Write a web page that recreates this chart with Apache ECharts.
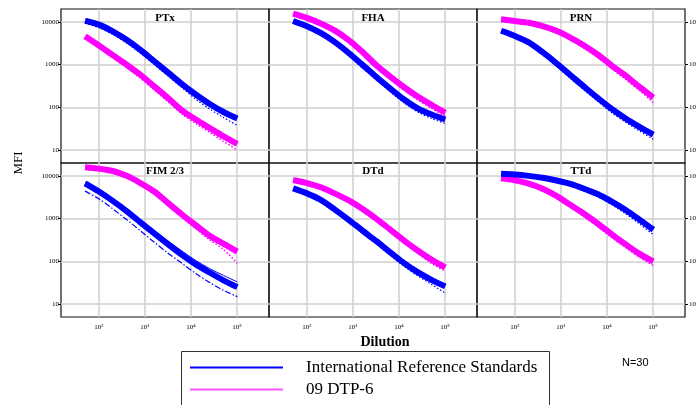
<!DOCTYPE html>
<html>
<head>
<meta charset="utf-8">
<script src="https://cdn.jsdelivr.net/npm/echarts@6/dist/echarts.min.js"></script>
<style>html,body{margin:0;padding:0;background:#fff}#c{width:696px;height:405px}</style>
</head>
<body>
<div id="c"></div>
<script>
// ---- data ----
const dilutions = [50, 100, 200, 400, 800, 1600, 3200, 6400, 12800, 25600, 51200, 102400];
const panelTitles = ['PTx', 'FHA', 'PRN', 'FIM 2/3', 'DTd', 'TTd'];
const seriesNames = ['International Reference Standards', '09 DTP-6'];
const xTickExps = [2, 3, 4, 5];
const yTickValues = [10, 100, 1000, 10000];

// International Reference Standards (dense band centre / lowest replicate)
const ptxIrs    = [10700, 8600, 6000, 3800, 2200, 1200, 650, 350, 200, 120, 78, 55];
const ptxIrsLow = [9300, 7300, 5100, 3200, 1850, 1000, 540, 290, 155, 92, 58, 38];
const fhaIrs    = [10500, 7900, 5500, 3400, 1900, 1000, 520, 280, 155, 95, 68, 52];
const fhaIrsLow = [9500, 7000, 4800, 2950, 1620, 850, 440, 235, 128, 78, 55, 42];
const prnIrs    = [6200, 4700, 3300, 1950, 1080, 570, 305, 165, 92, 55, 35, 23];
const prnIrsLow = [5600, 4200, 2900, 1700, 920, 480, 255, 137, 75, 45, 28, 18];
const fimIrs    = [6700, 4300, 2600, 1500, 820, 450, 250, 142, 85, 55, 36, 25];
const fimIrsHigh= [7200, 4700, 2900, 1700, 950, 520, 300, 175, 105, 68, 47, 33];
const fimIrsLow = [4400, 2900, 1700, 950, 520, 280, 155, 90, 52, 32, 21, 15];
const dtdIrs    = [5100, 3900, 2750, 1650, 950, 530, 300, 165, 92, 56, 37, 26];
const dtdIrsLow = [4700, 3500, 2450, 1450, 820, 455, 255, 140, 77, 46, 29, 18];
const ttdIrs    = [11200, 10800, 10000, 9000, 7800, 6500, 5000, 3700, 2500, 1600, 950, 550];
const ttdIrsLow = [10500, 10100, 9300, 8300, 7100, 5800, 4400, 3200, 2100, 1300, 750, 420];

// 09 DTP-6
const ptxDtp    = [4600, 2800, 1670, 1000, 580, 310, 165, 85, 52, 33, 21, 14];
const ptxDtpLow = [4100, 2450, 1450, 850, 480, 255, 135, 70, 42, 26, 16, 10];
const fhaDtp    = [15600, 12400, 9200, 6300, 3800, 2000, 980, 530, 300, 180, 115, 75];
const fhaDtpLow = [14000, 11000, 8200, 5500, 3300, 1750, 840, 455, 255, 150, 95, 62];
const prnDtp    = [11500, 10500, 9500, 8000, 6200, 4300, 2800, 1700, 950, 550, 300, 170];
const prnDtpLow = [10500, 9600, 8600, 7200, 5500, 3800, 2400, 1450, 800, 450, 250, 130];
const fimDtp    = [16000, 14800, 13000, 10000, 6800, 4300, 2300, 1250, 700, 400, 260, 170];
const fimDtpLow = [14500, 13500, 11800, 9200, 6200, 3800, 2000, 1050, 580, 320, 190, 90];
const dtdDtp    = [8000, 6800, 5400, 3900, 2700, 1700, 1000, 560, 310, 180, 110, 72];
const dtdDtpLow = [7400, 6200, 4900, 3500, 2400, 1500, 880, 490, 270, 155, 90, 58];
const ttdDtp    = [8800, 7900, 6600, 5000, 3400, 2100, 1300, 760, 430, 250, 150, 100];
const ttdDtpLow = [8200, 7300, 6000, 4500, 3000, 1850, 1100, 640, 360, 210, 125, 80];

const panels = [
  {irs: ptxIrs, irsLow: ptxIrsLow, dtp: ptxDtp, dtpLow: ptxDtpLow},
  {irs: fhaIrs, irsLow: fhaIrsLow, dtp: fhaDtp, dtpLow: fhaDtpLow},
  {irs: prnIrs, irsLow: prnIrsLow, dtp: prnDtp, dtpLow: prnDtpLow},
  {irs: fimIrs, irsLow: fimIrsLow, irsHigh: fimIrsHigh, dtp: fimDtp, dtpLow: fimDtpLow, dashLow: true},
  {irs: dtdIrs, irsLow: dtdIrsLow, dtp: dtdDtp, dtpLow: dtdDtpLow},
  {irs: ttdIrs, irsLow: ttdIrsLow, dtp: ttdDtp, dtpLow: ttdDtpLow}
];

// ---- chart ----
const BLUE = '#0000ff', MAG = '#ff00ff';
const SERIF = 'Liberation Serif, DejaVu Serif, serif';
const sup = {'2': '\u00b2', '3': '\u00b3', '4': '\u2074', '5': '\u2075'};
const pts = arr => dilutions.map((d, i) => [d, arr[i]]);

const colLeft = [61, 269, 477], colW = 208;
const rowTop = [9, 163], rowH = 154;

const grids = [], xAxes = [], yAxes = [], series = [], titles = [];
panels.forEach((p, i) => {
  const col = i % 3, row = Math.floor(i / 3);
  grids.push({left: colLeft[col], top: rowTop[row], width: colW, height: rowH,
    show: true, borderColor: '#111', borderWidth: 1.2, containLabel: false, outerBoundsMode: 'none'});
  xAxes.push({type: 'log', gridIndex: i, min: 15, max: 500000, logBase: 10,
    axisLine: {show: false}, axisTick: {show: false},
    axisLabel: {show: row === 1, showMinLabel: false, showMaxLabel: false, margin: 7,
      fontSize: 7, color: '#000', fontFamily: SERIF,
      formatter: v => { const e = String(Math.round(Math.log10(v))); return xTickExps.includes(+e) ? '10' + sup[e] : ''; }},
    splitLine: {show: true, showMinLine: false, showMaxLine: false, lineStyle: {color: '#cfcfcf', width: 1.5}}});
  const showY = col !== 1;
  yAxes.push({type: 'log', gridIndex: i, min: 5, max: 20000, logBase: 10,
    position: col === 2 ? 'right' : 'left',
    axisLine: {show: false},
    axisTick: {show: showY, length: 3, lineStyle: {color: '#000'}},
    axisLabel: {show: showY, showMinLabel: false, showMaxLabel: false, margin: col === 2 ? 4 : 2,
      fontSize: 7, color: '#000', fontFamily: SERIF,
      formatter: v => yTickValues.includes(Math.round(v)) ? String(Math.round(v)) : ''},
    splitLine: {show: true, showMinLine: false, showMaxLine: false, lineStyle: {color: '#cfcfcf', width: 1.5}}});
  const base = {type: 'line', xAxisIndex: i, yAxisIndex: i, symbol: 'none', smooth: 0.3, silent: true, animation: false};
  series.push(Object.assign({}, base, {name: seriesNames[1], data: pts(p.dtpLow), lineStyle: {color: MAG, width: 1.5, type: [1.5, 2]}, itemStyle: {color: MAG}}));
  series.push(Object.assign({}, base, {name: seriesNames[1], data: pts(p.dtp), lineStyle: {color: MAG, width: 6}, itemStyle: {color: MAG}}));
  series.push(Object.assign({}, base, {name: seriesNames[0], data: pts(p.irsLow), lineStyle: {color: BLUE, width: 1.2, type: p.dashLow ? [6, 2, 1.5, 2] : [1.5, 2]}, itemStyle: {color: BLUE}}));
  if (p.irsHigh) series.push(Object.assign({}, base, {name: seriesNames[0], data: pts(p.irsHigh), lineStyle: {color: BLUE, width: 1}, itemStyle: {color: BLUE}}));
  series.push(Object.assign({}, base, {name: seriesNames[0], data: pts(p.irs), lineStyle: {color: BLUE, width: 6}, itemStyle: {color: BLUE}}));
  titles.push({text: panelTitles[i], left: colLeft[col] + colW / 2, top: rowTop[row] + (row === 0 ? 4 : 3), textAlign: 'center', padding: 0,
    textStyle: {fontSize: 11, fontWeight: 'bold', fontFamily: SERIF, color: '#000'}});
});
titles.push({text: 'Dilution', left: 385, top: 335, textAlign: 'center', padding: 0,
  textStyle: {fontSize: 14, fontWeight: 'bold', fontFamily: SERIF, color: '#000'}});

const legendCommon = {
  orient: 'horizontal', left: 190, padding: 0,
  icon: 'rect', itemWidth: 93, itemHeight: 2, selectedMode: false,
  textStyle: {fontSize: 17, fontFamily: SERIF, color: '#000', padding: [0, 0, 0, 18]}
};

const chart = echarts.init(document.getElementById('c'), null, {renderer: 'canvas'});
chart.setOption({
  animation: false,
  backgroundColor: '#fff',
  title: titles,
  grid: grids,
  xAxis: xAxes,
  yAxis: yAxes,
  series: series,
  legend: [
    Object.assign({}, legendCommon, {top: 359, data: [{name: seriesNames[0], itemStyle: {color: BLUE}}]}),
    Object.assign({}, legendCommon, {top: 381, data: [{name: seriesNames[1], itemStyle: {color: '#ff55ff'}}]})
  ],
  graphic: [
    {type: 'rect', shape: {x: 181.5, y: 351.5, width: 368, height: 80},
      style: {fill: 'none', stroke: '#333', lineWidth: 1}, silent: true},
    {type: 'text', x: 19, y: 163, rotation: Math.PI / 2,
      style: {text: 'MFI', fontSize: 13, fontFamily: SERIF, fill: '#000', align: 'center', verticalAlign: 'middle'}},
    {type: 'text', x: 622, y: 363,
      style: {text: 'N=30', fontSize: 11, fontFamily: 'Liberation Sans, Arial, sans-serif', fill: '#000', align: 'left', verticalAlign: 'middle'}}
  ]
});
</script>
</body>
</html>
